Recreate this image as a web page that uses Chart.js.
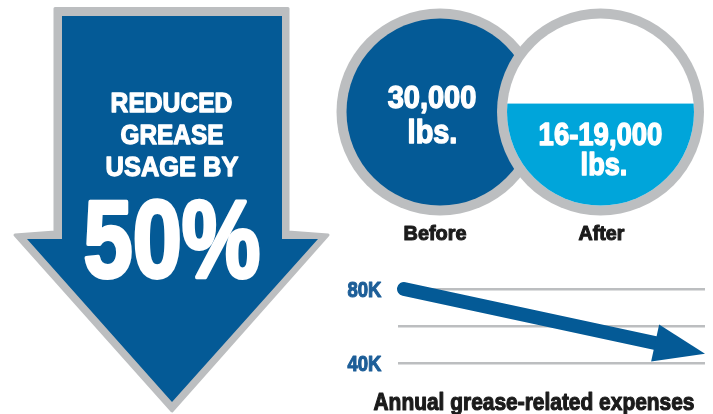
<!DOCTYPE html>
<html><head><meta charset="utf-8">
<script src="https://cdn.jsdelivr.net/npm/chart.js@4/dist/chart.umd.min.js"></script>
<style>html,body{margin:0;padding:0;background:#fff}canvas{display:block}</style>
</head><body>
<canvas id="c" width="713" height="414"></canvas>
<script>
// ---- data ----
const headlineLines = ['REDUCED', 'GREASE', 'USAGE BY'];
const reductionPct = 50;
const circleLabels = ['Before', 'After'];
const poundsText = ['30,000', '16-19,000'];
const poundsUnit = 'lbs.';
const afterFillShare = 0.545;          // share of the "After" circle that is filled
const expenseTicks = [40000, 60000, 80000];
const expenseTickLabels = ['40K', '', '80K'];
const expenseX = [0, 1];
const expenseValues = [80000, 45000];
const expenseTitle = 'Annual grease-related expenses';

// ---- styles ----
const BLUE = '#045a96';
const CYAN = '#00a5da';
const GRAY = '#bcbec0';
const INK = '#1b1b1b';
const TICKBLUE = '#1d5e98';

function drawFit(ctx, text, cx, baseline, capH, width, color, thick) {
  const size = capH / 0.716;
  ctx.save();
  ctx.font = 'bold ' + size + 'px "Liberation Sans", Arial, sans-serif';
  const w = ctx.measureText(text).width + (thick || 0);
  ctx.translate(cx, baseline);
  ctx.scale(width / w, 1);
  ctx.fillStyle = color;
  ctx.textAlign = 'center';
  ctx.textBaseline = 'alphabetic';
  ctx.fillText(text, 0, 0);
  if (thick) {
    ctx.lineJoin = 'round';
    ctx.lineWidth = thick;
    ctx.strokeStyle = color;
    ctx.strokeText(text, 0, 0);
  }
  ctx.restore();
}
function poly(ctx, pts) {
  ctx.beginPath();
  pts.forEach((p, i) => i ? ctx.lineTo(p[0], p[1]) : ctx.moveTo(p[0], p[1]));
  ctx.closePath();
}
function disc(ctx, cx, cy, r, color) {
  ctx.beginPath(); ctx.arc(cx, cy, r, 0, Math.PI * 2); ctx.fillStyle = color; ctx.fill();
}
function arrowGeom(chart, index) {
  const pts = chart.getDatasetMeta(index).data;
  const a = pts[0], b = pts[pts.length - 1];
  const dx = b.x - a.x, dy = b.y - a.y, L = Math.hypot(dx, dy);
  const ux = dx / L, uy = dy / L;
  return { b, ux, uy, px: -uy, py: ux };
}

const decor = {
  id: 'decor',
  beforeDraw(chart) {
    const ctx = chart.ctx;
    ctx.save();
    ctx.fillStyle = '#fff';
    ctx.fillRect(0, 0, chart.width, chart.height);

    // big down arrow
    const outer = [[55, 8.5], [288, 8.5], [288, 232], [328, 235], [172, 411], [15, 235], [55, 232]];
    poly(ctx, outer);
    ctx.fillStyle = GRAY; ctx.fill();
    ctx.lineJoin = 'round'; ctx.lineWidth = 3; ctx.strokeStyle = GRAY; ctx.stroke();
    const inner = [[62, 16], [282, 16], [282, 239], [318, 239], [172, 402], [27, 239], [62, 239]];
    poly(ctx, inner);
    ctx.fillStyle = BLUE; ctx.fill();

    drawFit(ctx, headlineLines[0], 171.5, 112, 19.5, 123, '#fff', 1.3);
    drawFit(ctx, headlineLines[1], 172, 144, 20, 104, '#fff', 1.3);
    drawFit(ctx, headlineLines[2], 172, 176, 20, 134, '#fff', 1.3);
    drawFit(ctx, reductionPct + '%', 172, 276.5, 78, 180, '#fff', 4);

    // circles
    const cy = 112, R = 103.5, r = 93.5;
    disc(ctx, 440, cy, R, GRAY);
    disc(ctx, 440, cy, r, BLUE);
    disc(ctx, 600.5, cy, R, GRAY);
    disc(ctx, 600.5, cy, r, '#fff');
    ctx.save();
    ctx.beginPath(); ctx.arc(600.5, cy, r, 0, Math.PI * 2); ctx.clip();
    const level = cy + r - afterFillShare * 2 * r;
    ctx.fillStyle = CYAN;
    ctx.fillRect(600.5 - r - 2, level, 2 * r + 4, 2 * r);
    ctx.restore();

    drawFit(ctx, poundsText[0], 432, 108, 22.5, 90, '#fff', 1.4);
    drawFit(ctx, poundsUnit, 432.5, 143, 23.5, 51, '#fff', 1.4);
    drawFit(ctx, poundsText[1], 600.5, 145, 22.5, 125, '#fff', 1.4);
    drawFit(ctx, poundsUnit, 604, 175, 23, 48, '#fff', 1.4);

    drawFit(ctx, circleLabels[0], 435, 240, 14.5, 64, INK, 1.1);
    drawFit(ctx, circleLabels[1], 601.5, 240, 14.5, 47, INK, 1.1);
    ctx.restore();
  },
  beforeDatasetDraw(chart, args) {
    const { b, ux, uy, px, py } = arrowGeom(chart, args.index);
    const Px = b.x - ux * 30, Py = b.y - uy * 30;
    const ctx = chart.ctx;
    ctx.save();
    ctx.beginPath();
    ctx.moveTo(Px + px * 2000, Py + py * 2000);
    ctx.lineTo(Px - px * 2000, Py - py * 2000);
    ctx.lineTo(Px - px * 2000 - ux * 3000, Py - py * 2000 - uy * 3000);
    ctx.lineTo(Px + px * 2000 - ux * 3000, Py + py * 2000 - uy * 3000);
    ctx.closePath();
    ctx.clip();
  },
  afterDatasetDraw(chart, args) {
    const ctx = chart.ctx;
    ctx.restore();
    const { b, ux, uy, px, py } = arrowGeom(chart, args.index);
    const bx = b.x - ux * 51, by = b.y - uy * 51;
    ctx.save();
    ctx.beginPath();
    ctx.moveTo(b.x, b.y);
    ctx.lineTo(bx + px * 19, by + py * 19);
    ctx.lineTo(bx - px * 19, by - py * 19);
    ctx.closePath();
    ctx.fillStyle = BLUE; ctx.fill();
    ctx.restore();
  },
  afterDraw(chart) {
    const ctx = chart.ctx;
    // y tick labels, positioned by the y scale
    const ys = chart.scales.y;
    ys.ticks.forEach(t => {
      const label = expenseTickLabels[expenseTicks.indexOf(t.value)];
      if (!label) return;
      drawFit(ctx, label, 364.5, ys.getPixelForValue(t.value) + 7.5, 15.5, 35, TICKBLUE, 1.1);
    });
    drawFit(ctx, expenseTitle, 534, 410, 16.5, 322, INK, 1.1);
  }
};

new Chart(document.getElementById('c'), {
  type: 'line',
  data: {
    datasets: [{
      data: expenseX.map((x, i) => ({ x: x, y: expenseValues[i] })),
      borderColor: BLUE,
      borderWidth: 14,
      borderCapStyle: 'round',
      pointRadius: 0,
      tension: 0,
      fill: false,
      clip: false
    }]
  },
  options: {
    responsive: false,
    animation: false,
    events: [],
    layout: { padding: { left: 0, top: 289, right: 8, bottom: 51 } },
    plugins: { legend: { display: false }, tooltip: { enabled: false }, title: { display: false } },
    scales: {
      x: { type: 'linear', min: -0.02, max: 1, display: false },
      y: {
        type: 'linear', min: 40000, max: 80000,
        afterBuildTicks(axis) { axis.ticks = expenseTicks.map(v => ({ value: v })); },
        afterFit(axis) { axis.width = 398; },
        border: { display: false },
        grid: { color: GRAY, lineWidth: 2.5, drawTicks: false },
        ticks: { display: false }
      }
    }
  },
  plugins: [decor]
});
</script>
</body></html>
